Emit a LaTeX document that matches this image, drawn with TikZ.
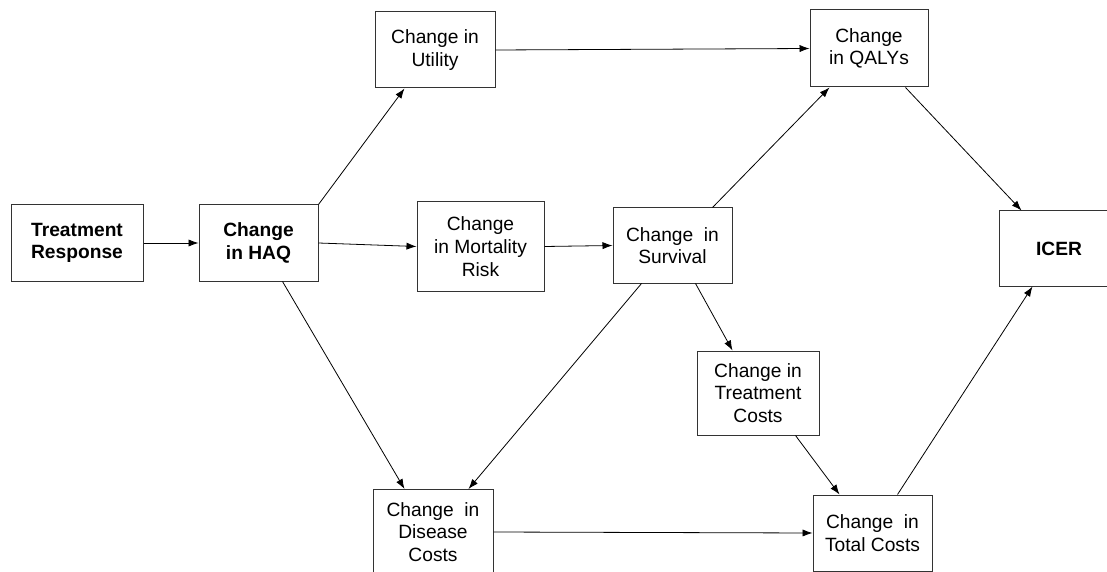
\documentclass[tikz,border=0pt]{standalone}
\usepackage{fontspec}
\setmainfont{Liberation Sans}
\usetikzlibrary{arrows.meta}

\begin{document}
\begin{tikzpicture}[x=0.5pt,y=-0.5pt]
  \tikzset{box/.style = {shape=rectangle,draw=black!80,line width=0.5pt,align=center,inner sep=1pt,font=\fontsize{9.6}{11.35}\selectfont}}
  \tikzset{boldbox/.style = {box,font=\fontsize{9.6}{11.35}\selectfont\bfseries}}
  \tikzset{edge/.style = {-{Latex[length=5pt,width=3.6pt]},line width=0.4pt}}

  \useasboundingbox (0,0) rectangle (1107,572);

	\node[boldbox,minimum width=66pt,minimum height=38pt] (TR) at (77,243) {Treatment\\Response};
	\node[boldbox,minimum width=59.5pt,minimum height=38pt] (HAQ) at (258.5,243) {Change\\in HAQ};
	\node[box,minimum width=60pt,minimum height=38pt] (Util) at (435,50) {Change in\\Utility};
	\node[box,minimum width=63.5pt,minimum height=44.5pt] (Mort) at (480.5,246.5) {Change\\in Mortality\\Risk};
	\node[box,minimum width=59.5pt,minimum height=37.5pt] (Surv) at (672.5,245.5) {Change\ \ in\\Survival};
	\node[box,minimum width=59pt,minimum height=38.5pt] (QALY) at (869,48.5) {Change\\in QALYs};
	\node[boldbox,minimum width=60pt,minimum height=37.5pt] (ICER) at (1059,248.5) {ICER};
	\node[box,minimum width=61pt,minimum height=42pt] (TC) at (758,393) {Change in\\Treatment\\Costs};
	\node[box,minimum width=60pt,minimum height=42.5pt] (DC) at (433,532) {Change\ \ in\\Disease\\Costs};
	\node[box,minimum width=59.5pt,minimum height=38pt] (TotC) at (872.5,533) {Change\ \ in\\Total Costs};

    \foreach \from/\fx/\to/\tx in {TR.east/0/HAQ.west/0, HAQ.east/0/Mort.west/0, Mort.east/0/Surv.west/0, Util.east/0/QALY.west/0, DC.east/0/TotC.west/0, HAQ.north east/0/Util.south west/15, Surv.north east/-10/QALY.south west/10, QALY.south east/-11.5/ICER.north west/11.5, Surv.south west/14.5/DC.north east/-12.5, Surv.south east/-18.5/TC.north west/18, HAQ.south west/42/DC.north west/16, TC.south east/-12/TotC.north west/13.5, TotC.north east/-17.5/ICER.south west/17}
    \draw[edge] ([xshift=\fx pt]\from) -- ([xshift=\tx pt]\to);

\end{tikzpicture}
\end{document}
